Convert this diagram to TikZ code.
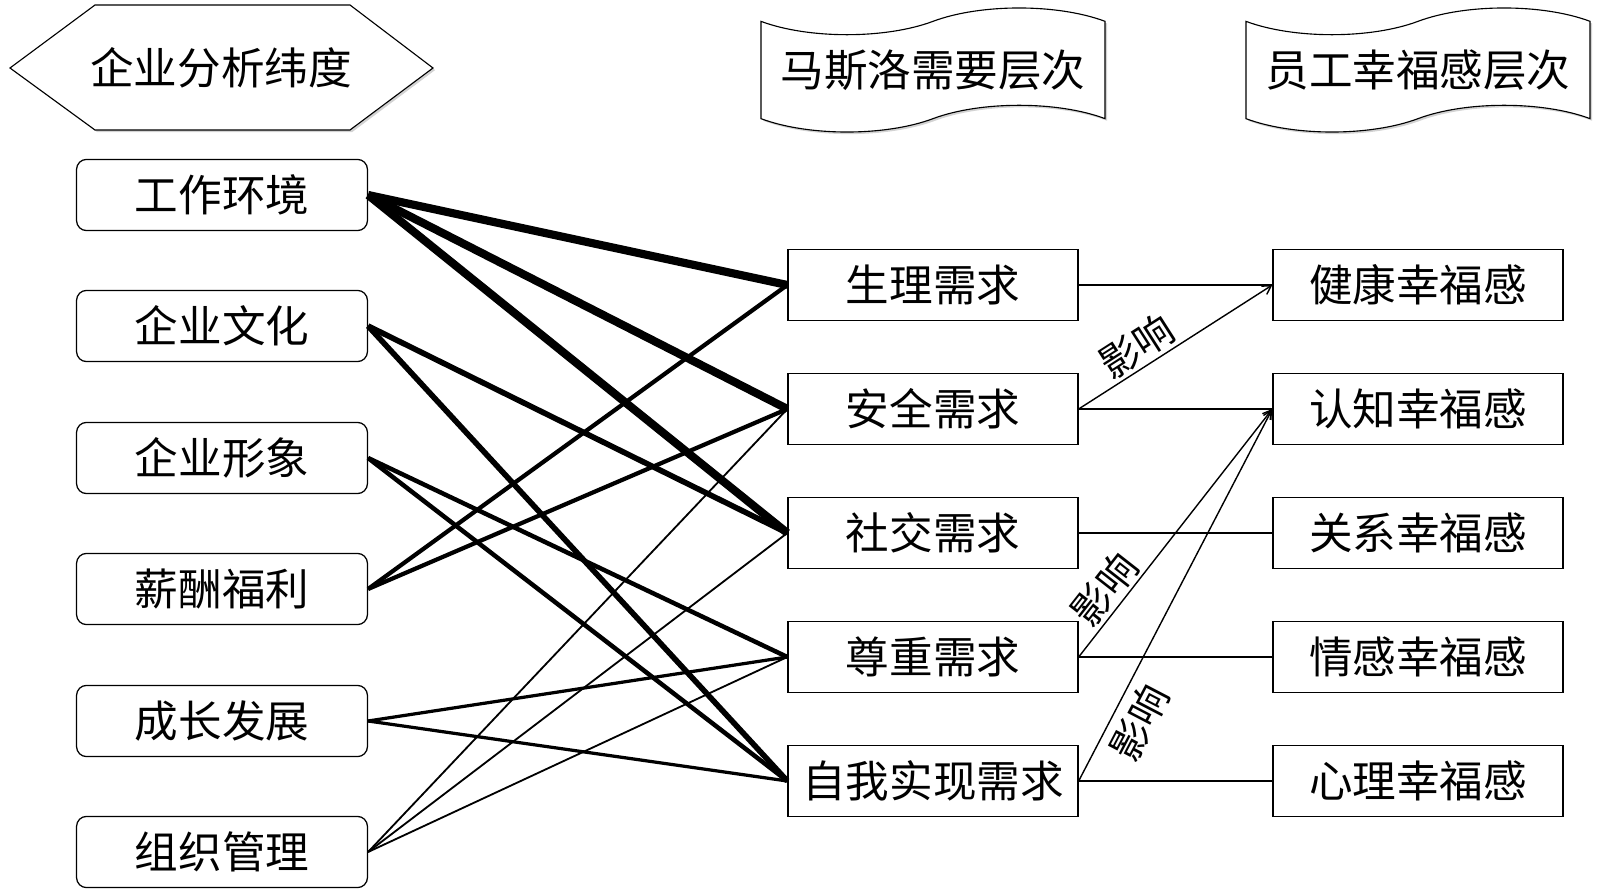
\documentclass[tikz,border=0pt]{standalone}
\usepackage{fontspec}
\newfontfamily\cjk{Noto Sans CJK SC}
\usetikzlibrary{shapes.symbols,shadows,arrows.meta}

\begin{document}
\begin{tikzpicture}[x=0.025cm,y=-0.025cm,
  every node/.style={font=\cjk\fontsize{31}{37}\selectfont},
  factor/.style={draw,rounded corners=0.25cm,line width=0.9pt,fill=white,minimum width=7.27cm,minimum height=1.78cm},
  need/.style={draw,line width=0.9pt,fill=white,minimum width=7.25cm,minimum height=1.78cm},
  happy/.style={need},
  softshadow/.style={drop shadow={shadow xshift=1.5pt,shadow yshift=-1.5pt,opacity=0.35}},
  banner/.style={tape,draw,line width=0.8pt,fill=white,minimum width=8.6cm,minimum height=3.1cm,tape bend height=19pt,softshadow},
  lab/.style={font=\cjk\fontsize{28}{32}\selectfont,sloped,inner sep=2pt},
  >={Straight Barb[length=6pt,width=7pt]}]
\useasboundingbox (0,0) rectangle (1600,892);

% headers
\draw[line width=0.8pt,fill=white,softshadow] (10,68) -- (95,5) -- (350,5) -- (433,68) -- (350,130) -- (95,130) -- cycle;
\node (dims) at (221,68) {企业分析纬度};
\node[banner] (maslow) at (933,70) {马斯洛需要层次};
\node[banner] (staff) at (1418,70) {员工幸福感层次};

% factors
\node[factor] (env) at (222,195) {工作环境};
\node[factor] (cult) at (222,326) {企业文化};
\node[factor] (image) at (222,458) {企业形象};
\node[factor] (pay) at (222,589) {薪酬福利};
\node[factor] (grow) at (222,721) {成长发展};
\node[factor] (org) at (222,852) {组织管理};

% needs
\node[need] (phys) at (933,285) {生理需求};
\node[need] (safe) at (933,409) {安全需求};
\node[need] (social) at (933,533) {社交需求};
\node[need] (esteem) at (933,657) {尊重需求};
\node[need] (self) at (933,781) {自我实现需求};

% wellbeing
\node[happy] (health) at (1418,285) {健康幸福感};
\node[happy] (cog) at (1418,409) {认知幸福感};
\node[happy] (rel) at (1418,533) {关系幸福感};
\node[happy] (emo) at (1418,657) {情感幸福感};
\node[happy] (mind) at (1418,781) {心理幸福感};

\draw[line width=5.8pt] (env.east) -- (phys.west);
\draw[line width=5.8pt] (env.east) -- (safe.west);
\draw[line width=5.8pt] (env.east) -- (social.west);
\draw[line width=4pt] (cult.east) -- (social.west);
\draw[line width=4pt] (cult.east) -- (self.west);
\draw[line width=3.2pt] (image.east) -- (esteem.west);
\draw[line width=3.2pt] (image.east) -- (self.west);
\draw[line width=3pt] (pay.east) -- (phys.west);
\draw[line width=3pt] (pay.east) -- (safe.west);
\draw[line width=2.3pt] (grow.east) -- (esteem.west);
\draw[line width=2.3pt] (grow.east) -- (self.west);
\draw[line width=1.3pt] (org.east) -- (safe.west);
\draw[line width=1.3pt] (org.east) -- (social.west);
\draw[line width=1.3pt] (org.east) -- (esteem.west);

\draw[line width=1pt] (phys.east) -- (health.west);
\draw[line width=1pt,->] (safe.east) -- node[lab,above,pos=0.36] (eff1) {影响} (health.west);
\draw[line width=1pt] (safe.east) -- (cog.west);
\draw[line width=1pt] (social.east) -- (rel.west);
\draw[line width=1pt,->] (esteem.east) -- node[lab,above,pos=0.22] (eff2) {影响} (cog.west);
\draw[line width=1pt] (esteem.east) -- (emo.west);
\draw[line width=1pt,->] (self.east) -- node[lab,below,pos=0.19,inner sep=6pt] (eff3) {影响} (cog.west);
\draw[line width=1pt] (self.east) -- (mind.west);
\end{tikzpicture}
\end{document}
